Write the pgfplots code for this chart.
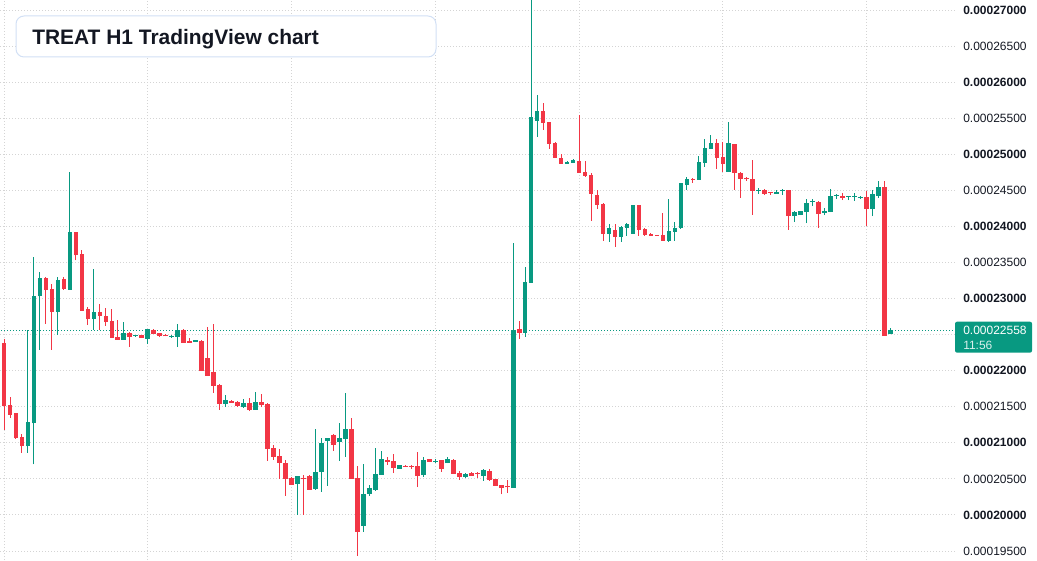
\documentclass[border=0pt]{standalone}
\usepackage{pgfplots}
\pgfplotsset{compat=1.18}
\usepackage{pgfplotstable}
\usepackage{fontspec}
\setmainfont{Liberation Sans}
\definecolor{tvgreen}{HTML}{089981}
\definecolor{tvred}{HTML}{F23645}
\definecolor{tvtext}{HTML}{131722}
\definecolor{tvgrid}{HTML}{D4D4D4}
\definecolor{tvborder}{HTML}{D2E0F5}

% rising candles: index open high low close (price x 1e-6)
\pgfplotstableread{
i o h l c
4 209.5 225.6 208.6 212.9
5 212.7 235.8 207.0 230.4
6 230.3 233.7 222.9 232.9
9 228.2 233.0 225.0 232.6
11 231.2 247.5 231.2 239.2
15 227.2 234.1 225.7 228.1
20 224.3 226.8 224.3 225.2
22 224.8 225.0 224.7 224.95
24 224.4 225.8 223.7 225.8
28 224.7 225.0 224.6 224.75
29 224.7 226.5 223.3 225.6
32 224.0 224.3 224.0 224.2
37 215.4 216.6 215.0 215.98
40 214.96 216.07 214.87 215.5
42 214.6 217.0 214.6 215.65
49 204.34 205.4 200.04 205.4
52 203.64 211.92 203.5 205.96
53 206.0 210.67 203.23 209.98
54 210.3 210.67 204.06 210.67
56 210.16 212.75 207.53 210.67
57 210.58 216.91 208.08 211.92
60 198.52 207.07 197.68 202.9
61 202.95 204.15 202.67 203.74
62 203.5 209.28 203.37 205.68
63 205.59 208.87 205.59 207.76
66 206.42 206.93 206.42 206.93
70 205.54 208.03 205.26 207.62
72 207.39 207.8 207.25 207.48
74 207.2 208.04 207.2 207.76
77 205.31 205.82 205.17 205.73
80 205.45 206.37 204.76 206.23
85 203.8 237.7 203.8 225.64
87 225.27 234.42 224.71 232.29
88 232.2 272.5 232.2 255.17
89 254.66 258.22 252.44 256.0
94 248.7 249.11 248.7 248.97
95 248.83 249.39 248.83 249.25
101 238.99 240.38 237.88 239.82
103 238.58 240.1 237.88 239.96
104 239.82 240.52 238.72 240.33
105 238.99 242.97 238.99 242.97
111 238.02 243.85 237.88 239.41
112 239.27 240.66 238.02 239.82
113 239.82 246.02 239.69 246.02
114 245.78 246.85 245.09 246.57
116 246.48 249.76 246.48 248.93
117 248.84 252.12 248.28 250.87
118 250.78 252.67 250.78 251.56
121 247.59 254.47 247.59 251.56
126 244.96 245.37 244.54 245.1
129 244.54 245.1 244.54 244.82
130 244.96 245.23 244.4 245.1
132 241.44 242.14 240.66 242.0
133 241.58 242.14 241.58 242.14
134 242.0 243.8 240.47 243.25
135 243.39 243.8 242.83 243.53
137 241.91 242.55 241.58 242.14
138 242.0 245.19 242.0 244.22
139 244.27 244.54 243.8 244.36
141 244.13 244.22 243.66 244.22
142 244.13 244.63 243.57 244.22
143 243.99 244.22 243.8 244.08
145 242.41 245.05 241.44 244.5
146 244.22 246.3 243.94 245.46
148 225.09 225.87 225.04 225.58
}\upcandles

% falling candles: index open high low close (price x 1e-6)
\pgfplotstableread{
i o h l c
0 223.9 224.4 211.8 215.1
1 215.2 216.4 213.5 213.9
2 214.1 214.2 210.6 210.7
3 210.8 211.2 208.6 209.5
7 232.9 233.0 226.5 231.2
8 231.3 232.0 222.9 228.2
10 232.7 233.0 231.2 231.3
12 239.2 239.2 235.3 236.0
13 236.2 236.7 228.3 228.3
14 228.6 228.8 226.4 227.1
16 228.1 229.2 225.7 227.6
17 227.6 228.7 226.2 226.8
18 226.9 228.6 224.6 224.6
19 224.7 227.0 224.3 224.3
21 225.2 225.4 223.3 224.7
23 224.95 225.0 224.6 224.6
25 225.6 225.8 225.1 225.1
26 225.2 225.2 224.7 224.85
27 224.85 225.1 224.75 224.75
30 225.6 225.8 223.9 223.9
31 224.0 224.5 223.9 223.9
33 224.1 224.25 219.95 219.95
34 221.8 226.05 219.3 219.3
35 219.8 226.5 216.95 217.9
36 218.0 218.1 214.6 215.4
38 215.8 215.98 215.55 215.55
39 215.65 215.8 215.0 215.15
41 215.5 216.2 214.4 214.55
43 215.65 216.76 214.96 215.24
44 215.38 215.5 207.5 209.19
45 209.3 209.7 207.66 208.08
46 208.17 209.14 205.03 207.25
47 207.2 207.6 202.67 205.03
48 205.17 205.2 204.2 204.2
50 205.12 205.54 200.04 204.98
51 205.4 205.54 203.5 203.5
55 211.08 211.22 208.91 209.75
58 211.92 213.44 205.03 205.03
59 205.12 206.79 194.36 197.68
64 207.62 208.03 206.93 207.34
65 207.48 208.45 205.82 206.51
67 206.79 206.93 206.65 206.7
68 206.79 206.93 206.37 206.7
69 206.79 208.73 203.87 205.4
71 207.76 207.76 207.34 207.34
73 207.62 207.62 205.96 206.37
75 207.62 207.76 205.73 205.73
76 205.82 206.1 204.9 205.31
78 205.82 205.96 205.45 205.45
79 205.73 205.96 205.17 205.68
81 206.1 206.37 204.76 204.9
82 204.99 204.99 204.06 204.06
83 204.15 204.15 202.86 203.78
84 203.92 204.9 203.09 203.83
86 225.73 226.88 224.39 225.27
90 256.0 257.11 253.41 254.38
91 254.47 254.47 250.78 251.47
92 251.56 251.7 249.53 249.53
93 249.48 250.04 248.7 248.7
96 249.11 255.5 247.45 247.45
97 247.59 249.11 246.89 247.03
98 247.17 247.45 240.8 244.54
99 244.4 245.09 242.46 243.01
100 243.1 243.24 238.02 238.99
102 239.5 240.38 237.19 238.58
106 242.97 242.97 238.72 239.55
107 239.64 239.78 238.72 238.85
108 238.99 239.13 238.72 238.72
109 238.85 238.85 238.72 238.72
110 238.85 241.9 238.02 238.02
115 246.57 246.71 246.07 246.48
119 251.56 252.12 248.0 249.53
120 249.62 251.7 247.59 248.7
122 251.42 251.42 245.09 247.45
123 247.4 247.54 243.99 246.62
124 246.76 246.9 246.34 246.53
125 246.57 249.21 241.63 244.96
127 245.1 245.23 244.4 244.54
128 244.77 244.77 244.4 244.68
131 245.05 245.05 239.55 241.44
136 243.39 243.53 239.78 241.72
140 244.22 244.63 243.66 243.94
144 244.08 244.91 240.06 242.41
147 245.46 246.3 224.85 224.85
}\downcandles

\begin{document}
\begin{tikzpicture}[x=1pt,y=1pt]
\useasboundingbox (0,0) rectangle (777.75,420);
\begin{axis}[
  at={(0,0)}, anchor=south west,
  width=716.25pt, height=420pt, scale only axis,
  xmin=-0.67, xmax=158.76, ymin=193.76, ymax=271.39,
  axis line style={draw=none},
  major tick length=0pt,
  xtick={0,24,48,72,96,120,144}, xticklabels={},
  ytick={195,200,205,210,215,220,225,230,235,240,245,250,255,260,265,270},
  yticklabel pos=right,
  yticklabels={0.00019500,\textbf{0.00020000},0.00020500,\textbf{0.00021000},0.00021500,\textbf{0.00022000},{},\textbf{0.00023000},0.00023500,\textbf{0.00024000},0.00024500,\textbf{0.00025000},0.00025500,\textbf{0.00026000},0.00026500,\textbf{0.00027000}},
  yticklabel style={anchor=west, inner sep=0pt, xshift=6pt, font=\fontsize{9}{11}\selectfont, text=tvtext},
  xmajorgrids, ymajorgrids,
  grid style={line width=0.75pt, color=tvgrid, dash pattern=on 0.75pt off 1.5pt},
]
% current price line
\addplot[tvgreen, line width=0.75pt, dash pattern=on 0.75pt off 1.5pt] coordinates {(-1,225.58) (160,225.58)};
% wicks
\addplot[draw=none, mark=none, error bars/.cd, y dir=plus, y explicit, error mark=none,
  error bar style={draw=tvgreen, line width=0.75pt, solid}]
  table[x=i, y=l, y error expr=\thisrow{h}-\thisrow{l}] {\upcandles};
\addplot[draw=none, mark=none, error bars/.cd, y dir=plus, y explicit, error mark=none,
  error bar style={draw=tvred, line width=0.75pt, solid}]
  table[x=i, y=l, y error expr=\thisrow{h}-\thisrow{l}] {\downcandles};
% bodies
\addplot[draw=none, mark=none, error bars/.cd, y dir=plus, y explicit, error mark=none,
  error bar style={draw=tvgreen, line width=3.5pt, solid}]
  table[x=i, y=o, y error expr={max(\thisrow{c}-\thisrow{o},0.15)}] {\upcandles};
\addplot[draw=none, mark=none, error bars/.cd, y dir=plus, y explicit, error mark=none,
  error bar style={draw=tvred, line width=3.5pt, solid}]
  table[x=i, y=c, y error expr={max(\thisrow{o}-\thisrow{c},0.15)}] {\downcandles};
\end{axis}
% title box
\draw[tvborder, line width=0.75pt, fill=white, rounded corners=6pt] (12,408) rectangle (327,377.25);
\node[anchor=base west, inner sep=0pt, text=tvtext, font=\fontsize{15.7}{18}\selectfont\bfseries] at (24.0,386.8) {TREAT H1 TradingView chart};
% last price label
\fill[tvgreen, rounded corners=1.5pt] (716.25,178.7) rectangle (774,155.5);
\node[anchor=west, inner sep=0pt, text=white, font=\fontsize{9}{11}\selectfont] at (722.25,172) {0.00022558};
\node[anchor=west, inner sep=0pt, text=white!85!tvgreen, font=\fontsize{9}{11}\selectfont] at (722.25,161.2) {11:56};
\end{tikzpicture}
\end{document}
